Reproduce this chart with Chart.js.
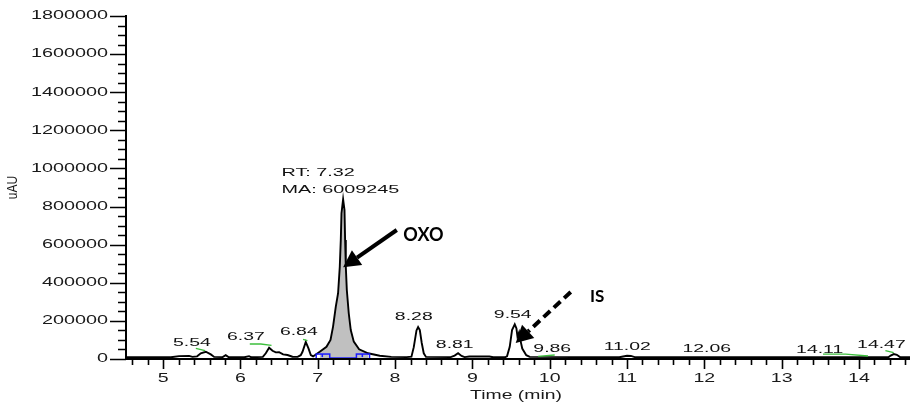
<!DOCTYPE html>
<html><head><meta charset="utf-8">
<script src="https://cdn.jsdelivr.net/npm/chart.js@4.4.0/dist/chart.umd.min.js"></script>
<style>html,body{margin:0;padding:0;background:#fff;}#wrap{width:911px;height:404px;}</style>
</head><body><div id="wrap"><canvas id="c" width="911" height="404"></canvas></div>
<script>
// ---- chromatogram trace (time in min, signal in uAU) ----
const traceTime = [4.52,5.10,5.207,5.336,5.38,5.44,5.487,5.552,5.617,5.66,5.77,5.81,5.85,6.05,6.112,6.14,6.29,6.328,6.371,6.415,6.457,6.50,6.552,6.609,6.673,6.74,6.78,6.803,6.845,6.88,6.91,6.94,6.962,7.026,7.113,7.165,7.198,7.233,7.263,7.285,7.298,7.307,7.328,7.346,7.354,7.363,7.376,7.401,7.427,7.466,7.535,7.651,7.802,7.95,8.15,8.212,8.242,8.277,8.298,8.320,8.345,8.371,8.40,8.72,8.77,8.815,8.86,8.90,8.96,9.22,9.27,9.42,9.448,9.483,9.513,9.548,9.570,9.583,9.604,9.626,9.645,9.697,9.742,10.90,10.95,11.00,11.05,11.10,14.38,14.41,14.45,14.49,14.53,14.66];
const traceSignal = [9000,9000,15000,16000,11000,14000,30000,38000,24000,11000,10000,20000,9000,9000,15000,9000,11000,30000,59000,43000,35000,36000,24000,21000,12000,11000,20000,38000,90000,56000,21000,14000,20000,38000,64000,100000,170000,274000,345000,484000,624000,765000,838000,782000,624000,484000,362000,240000,152000,91000,51000,30000,17000,11000,10000,12000,62000,150000,168000,152000,84000,30000,11000,10000,18000,30000,16000,10000,13000,13000,9000,9000,14000,64000,152000,182000,160000,118000,140000,90000,55000,20000,11000,9000,13000,17000,16000,10000,9000,18000,26000,22000,10000,9000];

// integrated (shaded) window of the OXO peak
const areaStart = 6.98, areaEnd = 7.67;
const integStarts = [6.98, 7.50];
const integEnds   = [7.155, 7.67];

// green baseline marks
const greenT = [[5.423,5.543],[6.121,6.263,6.402],[6.81,6.867],[9.85,10.065],[13.535,13.828,14.117],[14.342,14.449]];
const greenV = [[56000,43600],[78700,78700,71900],[103000,96000],[14000,21000],[26000,26000,15700],[43600,33000]];

// peak labels
const peakLabels = ['5.54','6.37','6.84','8.28','8.81','9.54','9.86','11.02','12.06','14.11','14.47'];
const peakLabelT = [5.372,6.07,6.755,8.242,8.772,9.522,10.033,11.003,12.031,13.492,14.29];
const peakLabelV = [82400,113900,143300,218800,73500,230900,50900,64500,50900,47200,73500];

const rtLines = ['RT: 7.32','MA: 6009245'];
const rtT = 6.531, rtV = [974500, 887000];

// annotations
const oxoFrom = [8.022, 677000], oxoTo = [7.328, 481200], oxoText = [8.367, 652300];
const isFrom = [10.272, 351600], isTo = [9.56, 84000], isText = [10.615, 325400];

// axes ticks
const yTickValues = [0,200000,400000,600000,800000,1000000,1200000,1400000,1600000,1800000];
const xTickValues = [5,6,7,8,9,10,11,12,13,14];
const xMin = 4.52, xMax = 14.66, yMin = 0, yMax = 1800000;

const tracePts = traceTime.map((t,i)=>({x:t,y:traceSignal[i]}));
const fillPts = tracePts.filter(p=>p.x>=areaStart && p.x<=areaEnd);

const datasets = [
  {data: fillPts, fill:'origin', backgroundColor:'#c0c0c0', borderWidth:0, pointRadius:0, order:3},
  {data: tracePts, borderColor:'#000', borderWidth:1.9, pointRadius:0, fill:false, order:2}
];
greenT.forEach((ts,k)=>{
  datasets.push({data: ts.map((t,i)=>({x:t,y:greenV[k][i]})), borderColor:'#3cbf3c', borderWidth:1.3, pointRadius:0, fill:false, order:1});
});

function sText(ctx, txt, x, y, font, sx, align, color){
  ctx.save();
  ctx.font = font; ctx.textBaseline = 'middle'; ctx.textAlign='left';
  ctx.fillStyle = color || '#111';
  const w = ctx.measureText(txt).width * sx;
  const left = align==='center' ? x - w/2 : (align==='right' ? x - w : x);
  ctx.translate(left, y); ctx.scale(sx,1); ctx.fillText(txt,0,0);
  ctx.restore();
}
function arrow(ctx, x1,y1,x2,y2, dashed){
  const ang = Math.atan2(y2-y1, x2-x1);
  const headLen = 17, headW = 9;
  const bx = x2 - headLen*Math.cos(ang), by = y2 - headLen*Math.sin(ang);
  ctx.save();
  ctx.strokeStyle='#000'; ctx.fillStyle='#000'; ctx.lineWidth=4; ctx.lineCap='butt';
  if (dashed) ctx.setLineDash([9,5]);
  ctx.beginPath(); ctx.moveTo(x1,y1); ctx.lineTo(bx,by); ctx.stroke();
  ctx.setLineDash([]);
  ctx.beginPath();
  ctx.moveTo(x2,y2);
  ctx.lineTo(bx + headW*Math.sin(ang), by - headW*Math.cos(ang));
  ctx.lineTo(bx - headW*Math.sin(ang), by + headW*Math.cos(ang));
  ctx.closePath(); ctx.fill();
  ctx.restore();
}

const decor = {
  id:'decor',
  afterDatasetsDraw(chart){
    const ctx = chart.ctx, xs = chart.scales.x, ys = chart.scales.y;
    const X = v=>xs.getPixelForValue(v), Y = v=>ys.getPixelForValue(v);
    // integration markers
    ctx.save();
    ctx.strokeStyle='#1a1aff'; ctx.lineWidth=1.5;
    const top = Y(26000), bot = Y(0);
    integStarts.forEach((s,i)=>{
      const l = X(s), r = X(integEnds[i]);
      ctx.strokeRect(l, top, r-l, bot-top);
      const m = l + (r-l)*0.45;
      ctx.beginPath(); ctx.moveTo(m, top); ctx.lineTo(m, top+3); ctx.stroke();
    });
    ctx.beginPath(); ctx.moveTo(X(integEnds[0]), Y(5000)); ctx.lineTo(X(integStarts[1]), Y(5000)); ctx.stroke();
    ctx.restore();

    // axes
    const L = chart.chartArea.left, R = chart.chartArea.right, B = chart.chartArea.bottom, T = chart.chartArea.top;
    ctx.save();
    ctx.strokeStyle='#000'; ctx.lineWidth=2;
    ctx.beginPath(); ctx.moveTo(L, T-1); ctx.lineTo(L, B+1); ctx.moveTo(L-1, B); ctx.lineTo(R, B); ctx.stroke();
    ctx.lineWidth=1.6;
    ctx.beginPath();
    for (let v=yMin; v<=yMax+1; v+=50000){
      const y = Math.round(Y(v))+0.5;
      const major = (v % 200000)===0;
      ctx.moveTo(L, y); ctx.lineTo(L-(major?16:8), y);
    }
    for (let k=Math.ceil(xMin*5); k<=Math.floor(xMax*5); k++){
      const v = k/5; const x = Math.round(X(v))+0.5;
      const major = (k % 5)===0;
      ctx.moveTo(x, B); ctx.lineTo(x, B+(major?10:6));
    }
    ctx.stroke();
    ctx.restore();
    yTickValues.forEach(v=> sText(ctx, String(v), L-18, Y(v), '12px "Liberation Sans", Arial, sans-serif', 1.65, 'right', '#1a1a1a'));
    xTickValues.forEach(v=> sText(ctx, String(v), X(v), B+19, '13.5px "Liberation Sans", Arial, sans-serif', 1.45, 'center', '#1a1a1a'));
    sText(ctx, 'Time (min)', (L+R)/2 - 2, B+37, '12.5px "Liberation Sans", Arial, sans-serif', 1.55, 'center', '#1a1a1a');
    ctx.save();
    ctx.translate(13, (T+B)/2); ctx.rotate(-Math.PI/2); ctx.scale(1, 1.2);
    ctx.font='12px "Liberation Sans", Arial, sans-serif'; ctx.fillStyle='#1a1a1a'; ctx.textAlign='center'; ctx.textBaseline='middle';
    ctx.fillText('uAU', 0, 0);
    ctx.restore();

    // peak labels
    peakLabels.forEach((s,i)=> sText(ctx, s, X(peakLabelT[i]), Y(peakLabelV[i]), '10.5px "Liberation Sans", Arial, sans-serif', 1.85, 'center', '#111'));
    rtLines.forEach((s,i)=> sText(ctx, s, X(rtT), Y(rtV[i]), '11px "Liberation Sans", Arial, sans-serif', 1.8, 'left', '#111'));

    // arrows + bold labels
    arrow(ctx, X(oxoFrom[0]), Y(oxoFrom[1]), X(oxoTo[0]), Y(oxoTo[1]), false);
    arrow(ctx, X(isFrom[0]), Y(isFrom[1]), X(isTo[0]), Y(isTo[1]), true);
    ctx.save();
    ctx.fillStyle='#000'; ctx.textAlign='center'; ctx.textBaseline='middle';
    ctx.font='bold 18px Lato, "Open Sans", sans-serif';
    ctx.fillText('OXO', X(oxoText[0]), Y(oxoText[1]));
    ctx.font='bold 17px Lato, "Open Sans", sans-serif';
    ctx.fillText('IS', X(isText[0]), Y(isText[1]));
    ctx.restore();
  }
};

new Chart(document.getElementById('c'), {
  type:'line',
  data:{datasets},
  options:{
    responsive:false, animation:false, devicePixelRatio:1,
    layout:{padding:{left:126,right:1,top:16,bottom:45}},
    plugins:{legend:{display:false}, tooltip:{enabled:false}},
    elements:{line:{tension:0}},
    scales:{
      x:{type:'linear', min:xMin, max:xMax, display:false},
      y:{type:'linear', min:yMin, max:yMax, display:false}
    }
  },
  plugins:[decor]
});
</script>
</body></html>
